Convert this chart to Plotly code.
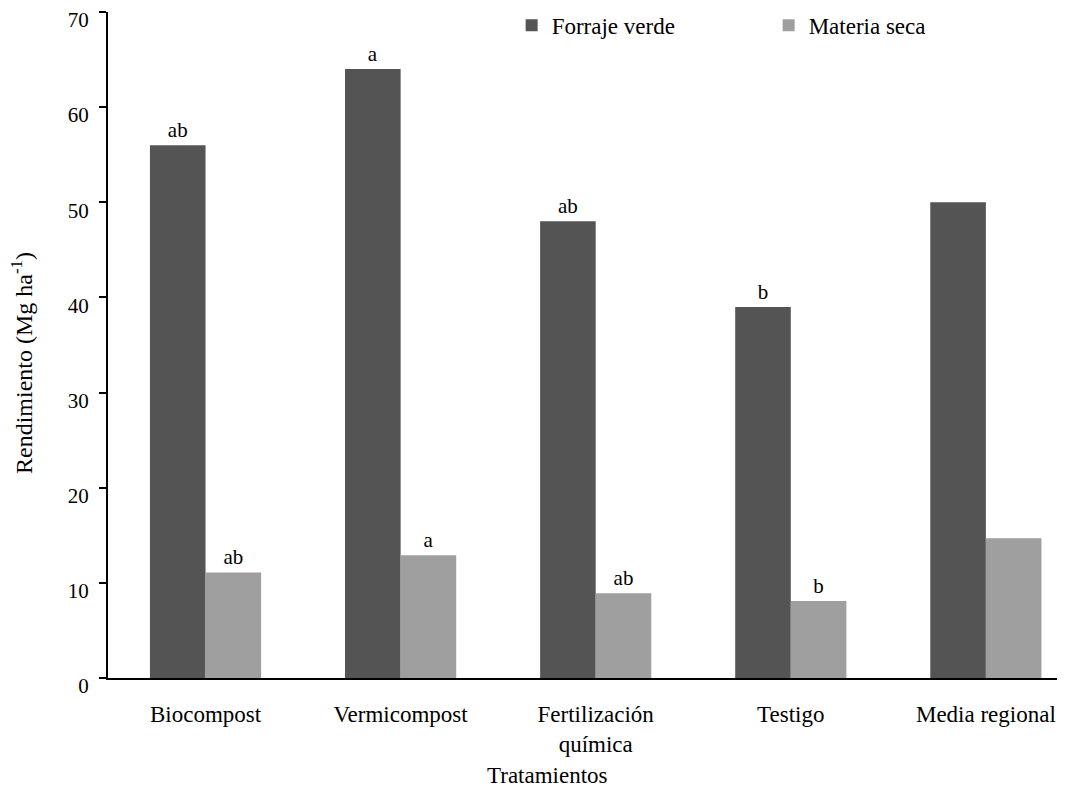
import plotly.graph_objects as go

categories = ["Biocompost", "Vermicompost", "Fertilización<br>química", "Testigo", "Media regional"]
forraje_verde = [56.0, 64.0, 48.0, 39.0, 50.0]
materia_seca = [11.1, 12.9, 8.9, 8.1, 14.7]
letters_fv = ["ab", "a", "ab", "b", ""]
letters_ms = ["ab", "a", "ab", "b", ""]
y_ticks = [0, 10, 20, 30, 40, 50, 60, 70]

font_family = "Liberation Serif"

# the page body has an 8px default margin, so the figure is sized to fill the rest
W, H = 1057, 784
ML, MR, MT, MB = 100, 5, 4, 114
plot_w = W - ML - MR
plot_h = H - MT - MB

fig = go.Figure()
fig.add_trace(go.Bar(
    x=categories, y=forraje_verde, name="Forraje verde",
    marker=dict(color="#545454", line=dict(width=0)),
    text=letters_fv, textposition="outside", cliponaxis=False,
    textfont=dict(family=font_family, size=21, color="black"),
))
fig.add_trace(go.Bar(
    x=categories, y=materia_seca, name="Materia seca",
    marker=dict(color="#9f9f9f", line=dict(width=0)),
    text=letters_ms, textposition="outside", cliponaxis=False,
    textfont=dict(family=font_family, size=21, color="black"),
))

fig.update_layout(
    width=W, height=H,
    paper_bgcolor="white", plot_bgcolor="white",
    barmode="group", bargap=0.43, bargroupgap=0,
    margin=dict(l=ML, r=MR, t=MT, b=MB, autoexpand=False),
    font=dict(family=font_family, size=21, color="black"),
    showlegend=True,
    legend=dict(
        orientation="h", x=0.424, y=0.98, xanchor="left", yanchor="middle",
        font=dict(family=font_family, size=23, color="black"),
        entrywidth=212, entrywidthmode="pixels",
        itemwidth=30, bgcolor="rgba(0,0,0,0)",
    ),
    annotations=[
        dict(text="Rendimiento (Mg ha<sup>-1</sup>)", xref="paper", yref="paper",
             x=(14 - ML) / plot_w, y=(670 - 355) / plot_h, textangle=-90,
             showarrow=False, xanchor="center", yanchor="middle",
             font=dict(family=font_family, size=24, color="black")),
        dict(text="Tratamientos", xref="paper", yref="paper",
             x=(539 - ML) / plot_w, y=(670 - 768) / plot_h,
             showarrow=False, xanchor="center", yanchor="middle",
             font=dict(family=font_family, size=23, color="black")),
    ],
)
fig.update_xaxes(
    range=[-0.5, 4.38], showgrid=False, zeroline=False, automargin=False,
    showline=True, linecolor="black", linewidth=2,
    ticks="", tickfont=dict(family=font_family, size=23, color="black"),
    ticklabelstandoff=14,
)
fig.update_yaxes(
    range=[0, 70], tickvals=y_ticks, showgrid=False, zeroline=False, automargin=False,
    showline=True, linecolor="black", linewidth=2,
    ticks="outside", ticklen=7, tickwidth=2, tickcolor="black",
    tickfont=dict(family=font_family, size=21, color="black"),
    ticklabelstandoff=6, ticklabelshift=8, ticklabeloverflow="allow",
)

fig.write_html("out.html")
